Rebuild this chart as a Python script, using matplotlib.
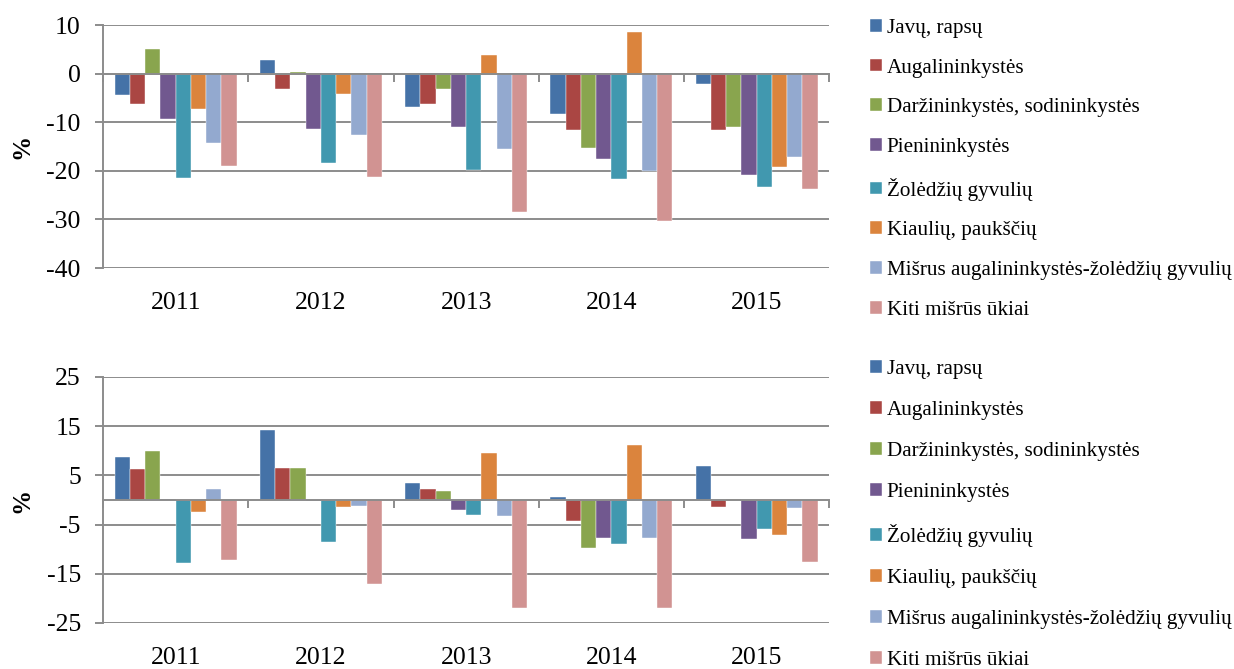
import numpy as np
import matplotlib
matplotlib.use('Agg')
import matplotlib.pyplot as plt

# ── Data ──────────────────────────────────────────────────────────────────────
years = ['2011', '2012', '2013', '2014', '2015']
farm_types = [
    'Javų, rapsų',
    'Augalininkystės',
    'Daržininkystės, sodininkystės',
    'Pienininkystės',
    'Žolėdžių gyvulių',
    'Kiaulių, paukščių',
    'Mišrus augalininkystės-žolėdžių gyvulių',
    'Kiti mišrūs ūkiai',
]

# upper panel, one list per farm type (2011..2015)
top_javu      = [-4.3,  2.9,  -6.8,  -8.4,  -2.1]
top_augal     = [-6.2, -3.2,  -6.2, -11.5, -11.5]
top_darz      = [ 5.1,  0.4,  -3.2, -15.3, -11.0]
top_pien      = [-9.3, -11.4, -10.9, -17.5, -20.8]
top_zoled     = [-21.5, -18.4, -19.8, -21.6, -23.3]
top_kiaul     = [-7.2, -4.2,   3.8,   8.6, -19.2]
top_misrus    = [-14.3, -12.6, -15.6, -20.1, -17.1]
top_kiti      = [-19.1, -21.3, -28.5, -30.4, -23.8]

# lower panel
bot_javu      = [ 8.8, 14.2,  3.5,  0.6,  6.9]
bot_augal     = [ 6.2,  6.4,  2.2, -4.3, -1.5]
bot_darz      = [10.0,  6.6,  1.8, -9.7,  0.3]
bot_pien      = [ 0.3, -0.3, -2.0, -7.8, -7.9]
bot_zoled     = [-12.8, -8.6, -3.0, -8.9, -6.0]
bot_kiaul     = [-2.4, -1.4,  9.5, 11.2, -7.2]
bot_misrus    = [ 2.3, -1.3, -3.3, -7.7, -1.6]
bot_kiti      = [-12.3, -17.1, -21.9, -22.0, -12.7]

top_series = [top_javu, top_augal, top_darz, top_pien, top_zoled, top_kiaul, top_misrus, top_kiti]
bot_series = [bot_javu, bot_augal, bot_darz, bot_pien, bot_zoled, bot_kiaul, bot_misrus, bot_kiti]

colors = ['#4572A7', '#AA4643', '#89A54E', '#71588F',
          '#4198AF', '#DB843D', '#93A9CF', '#D19392']

plt.rcParams['font.family'] = ['Liberation Serif', 'DejaVu Serif']
plt.rcParams['axes.unicode_minus'] = False
GRID = '#8c8c8c'

fig = plt.figure(figsize=(12.34, 6.69), dpi=100)
ax_top = fig.add_axes([0.0835, 0.5994, 0.5885, 0.3632])
ax_bot = fig.add_axes([0.0835, 0.0688, 0.5885, 0.3677])


def draw_panel(ax, series, yticks, legend_center, spacing):
    x = np.arange(len(years))
    w = 0.105
    for i, (vals, c) in enumerate(zip(series, colors)):
        ax.bar(x + (i - 3.5) * w, vals, w, color=c, label=farm_types[i],
               edgecolor='white', linewidth=0.3, zorder=3)

    ax.set_xlim(-0.5, len(years) - 0.5)
    ax.set_ylim(yticks[0], yticks[-1])
    ax.set_yticks(yticks)
    ax.yaxis.grid(True, color=GRID, linewidth=1.4, zorder=0)
    ax.tick_params(axis='y', length=6, width=1.4, color=GRID, pad=10, labelsize=18.5)

    # category axis runs along zero, ticks between groups
    ax.spines['bottom'].set_position(('data', 0))
    ax.spines['bottom'].set_color(GRID)
    ax.spines['bottom'].set_linewidth(1.4)
    ax.spines['bottom'].set_zorder(4)
    ax.set_xticks(np.arange(len(years) + 1) - 0.5)
    ax.tick_params(axis='x', length=6, width=1.4, color=GRID, labelbottom=False)
    for s in ('top', 'right'):
        ax.spines[s].set_visible(False)
    ax.spines['left'].set_color(GRID)
    ax.spines['left'].set_linewidth(1.4)

    # year labels below the plot area
    sec = ax.secondary_xaxis('bottom')
    sec.set_xticks(x, years)
    sec.tick_params(length=0, pad=17, labelsize=18.5)
    sec.spines['bottom'].set_visible(False)

    ax.set_ylabel('%', fontsize=18, fontweight='bold')
    ax.yaxis.set_label_coords(-0.096, 0.5)

    ax.legend(loc='center left', bbox_to_anchor=(0.705, legend_center),
              bbox_transform=fig.transFigure, frameon=False, fontsize=15.2,
              handlelength=0.55, handleheight=0.55, handletextpad=0.25,
              labelspacing=spacing, borderpad=0, borderaxespad=0)


draw_panel(ax_top, top_series, [-40, -30, -20, -10, 0, 10], 0.747, 0.98)
draw_panel(ax_bot, bot_series, [-25, -15, -5, 5, 15, 25], 0.230, 1.04)

plt.savefig('out.png', dpi=100)
plt.close()
